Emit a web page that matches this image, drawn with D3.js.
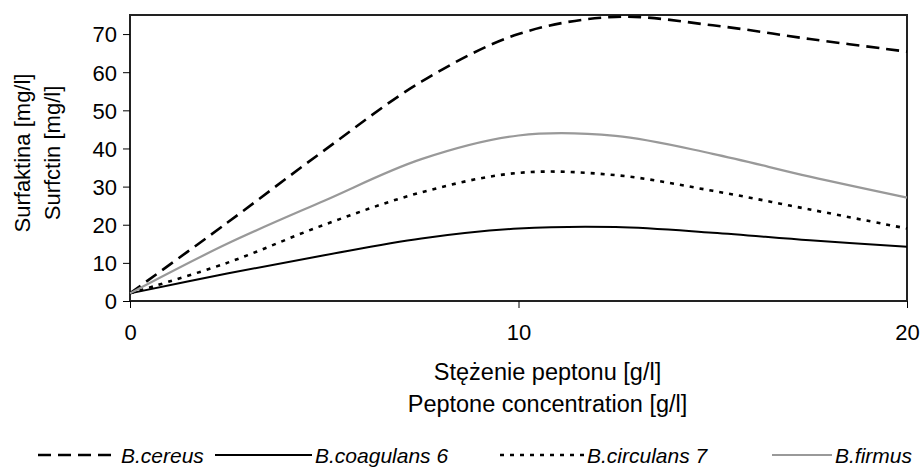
<!DOCTYPE html>
<html>
<head>
<meta charset="utf-8">
<script src="https://cdn.jsdelivr.net/npm/d3@7"></script>
<style>
  body { margin: 0; background: #fff; }
  svg text { font-family: "Liberation Sans", Arial, sans-serif; fill: #000; }
</style>
</head>
<body>
<svg id="chart" width="924" height="471"></svg>
<script>
// peptone concentration [g/l]
var conc = [0, 2.5, 5, 7.5, 10, 12.5, 15, 17.5, 20];

// surfactin [mg/l] per strain
var cereus    = [2, 20.5, 39.5, 57.5, 70, 74.5, 72.3, 68.7, 65.4];
var coagulans = [2, 7.2, 12, 16.4, 19, 19.4, 17.9, 15.9, 14.2];
var circulans = [2, 10, 20, 28.5, 33.6, 33, 28.9, 24, 19];
var firmus    = [2, 15, 26.3, 37.2, 43.4, 43.3, 38.6, 32.6, 27.1];

var seriesNames = ["B.cereus", "B.coagulans 6", "B.circulans 7", "B.firmus"];
var yTicks = [0, 10, 20, 30, 40, 50, 60, 70];
var xTicks = [0, 10, 20];

var series = [
  {name: seriesNames[0], values: cereus,    stroke: "#000", width: 2.6, dash: "13,7"},
  {name: seriesNames[1], values: coagulans, stroke: "#000", width: 2,   dash: null},
  {name: seriesNames[2], values: circulans, stroke: "#000", width: 2.6, dash: "4,6"},
  {name: seriesNames[3], values: firmus,    stroke: "#999", width: 2.2, dash: null}
];

var svg = d3.select("#chart");
var m = {left: 130, right: 907, top: 15, bottom: 301};
var fs = "22px";

var x = d3.scaleLinear().domain([0, 20]).range([m.left, m.right]);
var y = d3.scaleLinear().domain([0, 75]).range([m.bottom, m.top]);

// frame
svg.append("rect")
  .attr("x", m.left).attr("y", m.top)
  .attr("width", m.right - m.left).attr("height", m.bottom - m.top)
  .attr("fill", "none")
  .attr("stroke", "#222")
  .attr("stroke-width", 2);

// y axis
var yAxis = svg.append("g")
  .attr("transform", "translate(" + m.left + ",0)")
  .call(d3.axisLeft(y).tickValues(yTicks).tickSize(7).tickPadding(6));
yAxis.select(".domain").remove();
yAxis.selectAll("line").attr("stroke", "#000");
yAxis.selectAll("text").style("font-size", fs).attr("dy", "0.36em");

// x axis
var xAxis = svg.append("g")
  .attr("transform", "translate(0," + m.bottom + ")")
  .call(d3.axisBottom(x).tickValues(xTicks).tickSize(7).tickPadding(16));
xAxis.select(".domain").remove();
xAxis.selectAll("line").attr("stroke", "#000");
xAxis.selectAll("text").style("font-size", fs);

// titles
var cx = (m.left + m.right) / 2 + 29;
svg.append("text")
  .attr("x", cx).attr("y", 380)
  .attr("text-anchor", "middle")
  .style("font-size", "23.5px")
  .text("Stężenie peptonu [g/l]");
svg.append("text")
  .attr("x", cx).attr("y", 412)
  .attr("text-anchor", "middle")
  .style("font-size", "23.5px")
  .text("Peptone concentration [g/l]");

svg.append("text")
  .attr("transform", "translate(30,153) rotate(-90)")
  .attr("text-anchor", "middle")
  .style("font-size", fs)
  .text("Surfaktina [mg/l]");
svg.append("text")
  .attr("transform", "translate(60,153) rotate(-90)")
  .attr("text-anchor", "middle")
  .style("font-size", fs)
  .text("Surfctin [mg/l]");

// lines
var line = d3.line()
  .x(function(d, i) { return x(conc[i]); })
  .y(function(d) { return y(d); })
  .curve(d3.curveCatmullRom);

svg.append("g").selectAll("path")
  .data(series)
  .join("path")
  .attr("fill", "none")
  .attr("stroke", function(d) { return d.stroke; })
  .attr("stroke-width", function(d) { return d.width; })
  .attr("stroke-dasharray", function(d) { return d.dash; })
  .attr("d", function(d) { return line(d.values); });

// legend: sample line start/end, then the label
var legendX = [[38, 118], [215, 312], [500, 584], [772, 832]];
var ly = 455;
var legend = svg.append("g");
series.forEach(function(s, i) {
  legend.append("line")
    .attr("x1", legendX[i][0]).attr("x2", legendX[i][1])
    .attr("y1", ly).attr("y2", ly)
    .attr("stroke", s.stroke)
    .attr("stroke-width", s.width)
    .attr("stroke-dasharray", s.dash);
  legend.append("text")
    .attr("x", legendX[i][1] + 3).attr("y", ly + 8)
    .style("font-size", "21px")
    .style("font-style", "italic")
    .text(s.name);
});
</script>
</body>
</html>
